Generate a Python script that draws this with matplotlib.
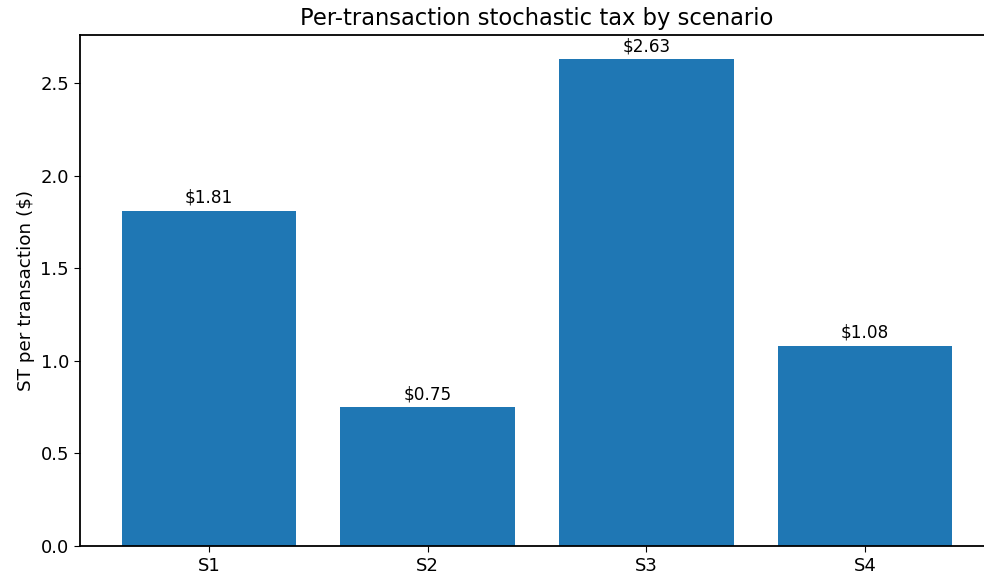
import matplotlib.pyplot as plt

scenarios = ['S1', 'S2', 'S3', 'S4']
st_values = [1.81, 0.75, 2.63, 1.08]
value_labels = ['$1.81', '$0.75', '$2.63', '$1.08']

fig = plt.figure(figsize=(9.84, 5.81), dpi=100)
ax = fig.add_axes([80 / 984, 35 / 581, 914 / 984, 511 / 581])

bars = ax.bar(scenarios, st_values, width=0.8, color='#1f77b4')
ax.bar_label(bars, labels=value_labels, padding=3, fontsize=12.2)

ax.set_title('Per-transaction stochastic tax by scenario', fontsize=16.3, pad=7.5)
ax.set_ylabel('ST per transaction ($)', fontsize=13.2)
ax.tick_params(labelsize=13, length=4.5)
for s in ax.spines.values():
    s.set_linewidth(1.3)

fig.savefig('out.png', dpi=100)
